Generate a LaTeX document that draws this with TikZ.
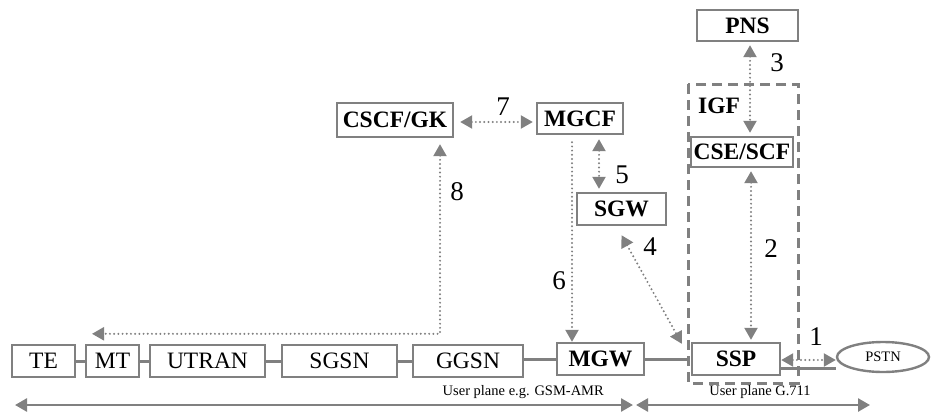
\documentclass[tikz,border=0pt]{standalone}
\usepackage{fontspec}
\setmainfont{Liberation Serif}
\usetikzlibrary{arrows.meta,shapes.geometric}
\definecolor{lg}{RGB}{128,128,128}
\begin{document}
\begin{tikzpicture}[x=1pt,y=-1pt,
  >={Triangle[length=12pt,width=13pt]},
  box/.style={draw=lg,line width=2.4pt,fill=white,inner sep=0pt,minimum height=32pt,font=\fontsize{23.5}{26}\selectfont},
  bbox/.style={box,font=\fontsize{23.5}{26}\selectfont\bfseries},
  num/.style={inner sep=0pt,font=\fontsize{27}{30}\selectfont},
  small/.style={inner sep=0pt,font=\fontsize{14.5}{16}\selectfont},
  dotline/.style={draw=lg,line width=2.2pt,line cap=round,dash pattern=on 0pt off 4.2pt},
  solidline/.style={draw=lg,line width=3pt},
  dashbox/.style={draw=lg,line width=3pt,dash pattern=on 10pt off 6pt},
  plane/.style={draw=lg,line width=2.6pt,<->}
]
\useasboundingbox (0,0) rectangle (933,412);

% IGF dashed box
\draw[dashbox] (688,84) rectangle (798,383);
\node[inner sep=0pt,font=\fontsize{23.5}{26}\selectfont\bfseries] (IGF) at (719,106) {IGF};

% bottom row
\node[box,minimum width=63pt] (TE) at (43.5,361) {TE};
\node[box,minimum width=53pt] (MT) at (112.5,361) {MT};
\node[box,minimum width=115pt] (UTRAN) at (207.5,361) {UTRAN};
\node[box,minimum width=115pt] (SGSN) at (339.5,361) {SGSN};
\node[box,minimum width=110pt] (GGSN) at (468,361) {GGSN};
\node[bbox,minimum width=87pt] (MGW) at (600.5,359) {MGW};
\node[bbox,minimum width=88pt] (SSP) at (736,359) {SSP};
\node[draw=lg,line width=2.4pt,ellipse,inner sep=0pt,minimum width=92pt,minimum height=30pt,font=\fontsize{14.5}{16}\selectfont] (PSTN) at (883,357) {PSTN};

% upper nodes
\node[bbox,minimum width=101pt,minimum height=31pt] (PNS) at (747.5,25.5) {PNS};
\node[bbox,minimum width=102pt,minimum height=30pt] (CSE) at (742,152) {CSE/SCF};
\node[bbox,minimum width=86pt,minimum height=31pt] (MGCF) at (580,118.5) {MGCF};
\node[bbox,minimum width=116pt,minimum height=34pt] (CSCF) at (395,120) {CSCF/GK};
\node[bbox,minimum width=89pt,minimum height=32pt] (SGW) at (621.5,209) {SGW};

% solid links
\draw[solidline] (TE.east) -- (MT.west);
\draw[solidline] (MT.east) -- (UTRAN.west);
\draw[solidline] (UTRAN.east) -- (SGSN.west);
\draw[solidline] (SGSN.east) -- (GGSN.west);
\draw[solidline] (GGSN.east |- MGW.west) -- (MGW.west);
\draw[solidline] (MGW.east) -- ([xshift=-2pt]SSP.west);
\draw[solidline] ([yshift=-9pt]SSP.east) -- ([yshift=-9pt]SSP.east -| PSTN.west);

% dotted signalling links
\draw[dotline,<->] ([xshift=6pt,yshift=-2pt]CSCF.east) -- ([xshift=-3pt,yshift=-3.5pt]MGCF.west);
\draw[dotline,<->] ([xshift=2.5pt,yshift=-3pt]PNS.south) -- ([xshift=8pt,yshift=3pt]CSE.north);
\draw[dotline,<->] ([xshift=9pt,yshift=-3pt]CSE.south) -- ([xshift=15pt,yshift=2pt]SSP.north);
\draw[dotline,<->] ([xshift=19pt,yshift=-4pt]MGCF.south) -- ([xshift=-22.5pt,yshift=3pt]SGW.north);
\draw[dotline,->] ([xshift=-8pt,yshift=-7pt]MGCF.south) -- ([xshift=-28.5pt]MGW.north);
\draw[dotline,<->] ([yshift=-9pt]SGW.south) -- ([xshift=-9pt,yshift=-2pt]SSP.north west);
\draw[dotline,<->] ([xshift=45pt,yshift=-6pt]CSCF.south) |- ([xshift=-20.5pt,yshift=10pt]MT.north);
\draw[dotline,<->] ([yshift=-1pt]SSP.east) -- ([yshift=-1pt]SSP.east -| PSTN.west);

% numbers
\node[num] (n7) at (503,107) {7};
\node[num] (n3) at (777,63) {3};
\node[num] (n5) at (622,175) {5};
\node[num] (n8) at (457,192) {8};
\node[num] (n6) at (559,281) {6};
\node[num] (n4) at (650,247) {4};
\node[num] (n2) at (771,249) {2};
\node[num] (n1) at (816,337) {1};

% user plane arrows
\coordinate (L) at (15,405);
\coordinate (M1) at (633,405);
\coordinate (M2) at (636,405);
\coordinate (R) at (870,405);
\draw[plane] (L) -- (M1);
\draw[plane] (M2) -- (R);
\node[small,anchor=east] (up1) at (604,392) {User plane e.g. GSM-AMR};
\node[small] (up2) at (760,392) {User plane G.711};
\end{tikzpicture}
\end{document}
